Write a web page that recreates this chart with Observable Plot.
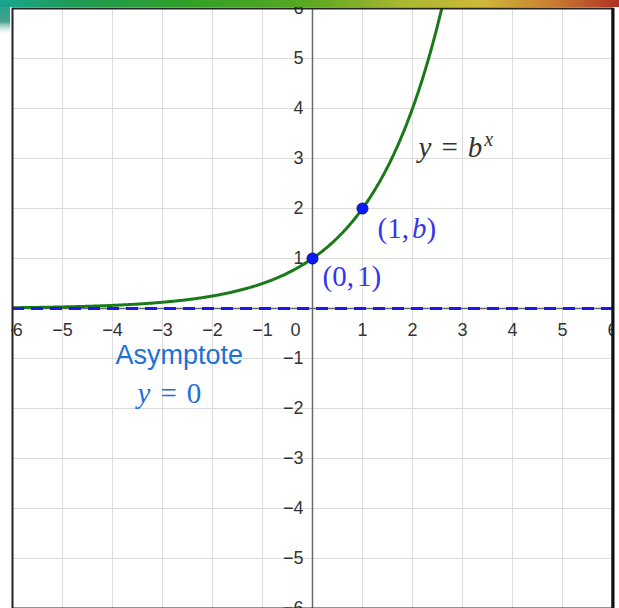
<!DOCTYPE html>
<html>
<head>
<meta charset="utf-8">
<script src="https://cdn.jsdelivr.net/npm/d3@7"></script>
<script src="https://cdn.jsdelivr.net/npm/@observablehq/plot@0.6"></script>
<style>
  html, body { margin: 0; padding: 0; background: #fff; }
  #chart svg { display: block; }
</style>
</head>
<body>
<div id="chart"></div>
<script>
// Exponential growth y = b^x with base b = 2
const base = 2;

// Axis tick values
const xTicks = [-6, -5, -4, -3, -2, -1, 1, 2, 3, 4, 5, 6];
const yTicks = [-6, -5, -4, -3, -2, -1, 1, 2, 3, 4, 5, 6];
const gridLines = [-6, -5, -4, -3, -2, -1, 0, 1, 2, 3, 4, 5, 6];

// Highlighted points on the curve (labels as math segments: i = italic, dx = extra spacing)
const keyX = [0, 1];
const keyLabels = [
  [{t: "(0,"}, {t: "1)", dx: 3}],
  [{t: "(1,"}, {t: "b", i: true, dx: 3}, {t: ")"}]
];
const keyLabelPos = [[0.2, 0.64], [1.3, 1.6]];

// Curve equation label
const curveLabel = [{t: "y", i: true}, {t: "=", dx: 10}, {t: "b", i: true, dx: 10}, {t: "x", i: true, sup: true}];
const curveLabelPos = [2.12, 3.22];

// Horizontal asymptote
const asymptoteY = 0;
const asymptoteTitle = "Asymptote";
const asymptoteEq = [{t: "y", i: true}, {t: "=", dx: 10}, {t: "0", dx: 10}];
const asymptoteTitlePos = [-3.94, -0.94];
const asymptoteEqPos = [-3.5, -1.7];

const curve = d3.range(-6, 2.72, 0.02).map(x => ({x, y: Math.pow(base, x)}));
const keyPoints = keyX.map((x, k) => ({x, y: Math.pow(base, x), label: keyLabels[k], lx: keyLabelPos[k][0], ly: keyLabelPos[k][1]}));

const joined = segs => segs.map(s => s.t).join("");
const fmt = d => d < 0 ? "\u2212" + Math.abs(d) : String(d);

const sans = "'Liberation Sans', Arial, Helvetica, sans-serif";
const serif = "'Liberation Serif', 'Times New Roman', serif";
const tickStyle = {fontSize: 18, fill: "#333", fontFamily: sans};
const mathSize = 29;
const blue = "#1a1af0";
const lightBlue = "#1f70d6";

const chart = Plot.plot({
  width: 619,
  height: 608,
  marginTop: 8,
  marginBottom: 0,
  marginLeft: 12,
  marginRight: 7,
  x: {domain: [-6, 6], axis: null},
  y: {domain: [-6, 6], axis: null},
  style: {background: "transparent", overflow: "visible"},
  marks: [
    Plot.ruleX(gridLines, {stroke: "#dcdcdc", strokeWidth: 1}),
    Plot.ruleY(gridLines, {stroke: "#dcdcdc", strokeWidth: 1}),
    Plot.ruleX([0], {stroke: "#6a6a6a", strokeWidth: 1.5}),
    Plot.ruleY([0], {stroke: "#6a6a6a", strokeWidth: 1.5}),
    Plot.text(xTicks, {x: d => d, y: 0, dy: 22, text: fmt, ...tickStyle}),
    Plot.text([0], {x: d => d, y: 0, dx: -17, dy: 22, text: fmt, ...tickStyle}),
    Plot.text(yTicks, {x: 0, y: d => d, dx: -9, textAnchor: "end", text: fmt, ...tickStyle}),
    Plot.line(curve, {x: "x", y: "y", stroke: "#1a7a1a", strokeWidth: 3, clip: true}),
    Plot.ruleY([asymptoteY], {stroke: blue, strokeWidth: 3, strokeDasharray: "12,7"}),
    Plot.dot(keyPoints, {x: "x", y: "y", r: 5.5, fill: "#0b1cf2", stroke: "#14145a", strokeWidth: 1}),
    Plot.text(keyPoints, {x: "lx", y: "ly", text: d => joined(d.label), textAnchor: "start", fontSize: mathSize, fontFamily: serif, fill: "#3535f0"}),
    Plot.text([curveLabelPos], {x: d => d[0], y: d => d[1], text: () => joined(curveLabel), textAnchor: "start", fontSize: mathSize, fontFamily: serif, fill: "#333"}),
    Plot.text([asymptoteTitlePos], {x: d => d[0], y: d => d[1], text: () => asymptoteTitle, textAnchor: "start", fontSize: 27, fontFamily: sans, fill: lightBlue}),
    Plot.text([asymptoteEqPos], {x: d => d[0], y: d => d[1], text: () => joined(asymptoteEq), textAnchor: "start", fontSize: mathSize, fontFamily: serif, fill: lightBlue}),
    Plot.frame({stroke: "#222", strokeWidth: 2})
  ]
});

// Rebuild math labels so variables are set in italic (and exponents raised)
const mathLabels = [...keyLabels, curveLabel, asymptoteEq];
d3.select(chart).selectAll("text").each(function() {
  const node = d3.select(this);
  const segs = mathLabels.find(s => joined(s) === this.textContent);
  if (!segs) return;
  node.text(null);
  for (const s of segs) {
    const ts = node.append("tspan").text(s.t);
    if (s.i) ts.attr("font-style", "italic");
    if (s.dx) ts.attr("dx", s.dx);
    if (s.sup) ts.attr("font-size", 20).attr("baseline-shift", "55%").attr("dx", 2);
  }
});

// Window edges: white gutters outside the graph view, heavier right border
const svg = d3.select(chart);
svg.append("rect").attr("x", 0).attr("y", 0).attr("width", 11).attr("height", 608).attr("fill", "#fff");
svg.append("rect").attr("x", 614).attr("y", 0).attr("width", 5).attr("height", 608).attr("fill", "#fff");
svg.append("line").attr("x1", 613).attr("x2", 613).attr("y1", 8).attr("y2", 608).attr("stroke", "#111").attr("stroke-width", 3);

// Coloured strip along the top edge and a faint tint on the left edge
const defs = svg.insert("defs", ":first-child");
const grad = defs.append("linearGradient").attr("id", "strip");
[["0%", "#18a890"], ["12%", "#1f9a55"], ["30%", "#2fa028"], ["50%", "#5aa820"],
 ["65%", "#a8b830"], ["78%", "#d0b838"], ["90%", "#c87a30"], ["100%", "#b03024"]]
  .forEach(([o, c]) => grad.append("stop").attr("offset", o).attr("stop-color", c));
const vgrad = defs.append("linearGradient").attr("id", "edge").attr("x1", 0).attr("x2", 0).attr("y1", 0).attr("y2", 1);
[["0%", "#18a890", 1], ["60%", "#1a8a70", 0.8], ["100%", "#ffffff", 0]]
  .forEach(([o, c, a]) => vgrad.append("stop").attr("offset", o).attr("stop-color", c).attr("stop-opacity", a));
svg.append("rect").attr("x", 0).attr("y", 0).attr("width", 619).attr("height", 7).attr("fill", "url(#strip)");
svg.append("rect").attr("x", 0).attr("y", 0).attr("width", 10).attr("height", 36).attr("fill", "url(#edge)");

document.getElementById("chart").append(chart);
</script>
</body>
</html>
